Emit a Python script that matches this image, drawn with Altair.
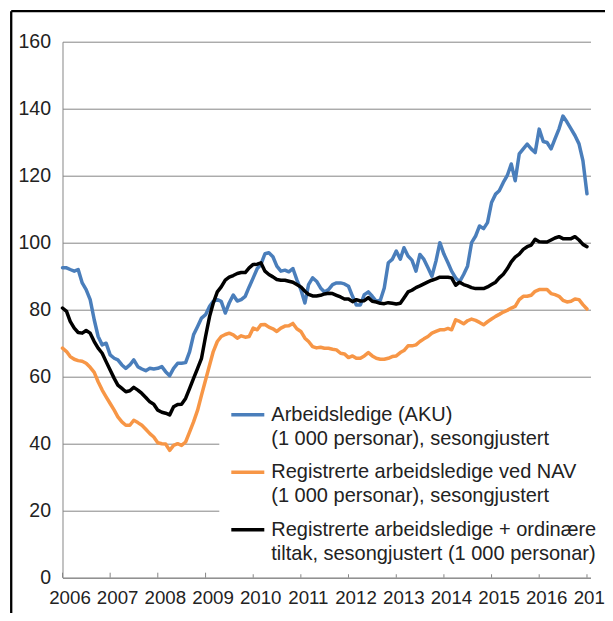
import altair as alt
import pandas as pd

# ---- data (monthly Jan 2006 .. Jan 2017) ----
series_names = [
    "Arbeidsledige (AKU)|(1 000 personar), sesongjustert",
    "Registrerte arbeidsledige ved NAV|(1 000 personar), sesongjustert",
    "Registrerte arbeidsledige + ordinære|tiltak, sesongjustert (1 000 personar)",
]
series_colors = ["#4A7EBB", "#F79646", "#000000"]

aku = [
    92.5, 92.5, 92.0, 91.5, 92.0, 88.0, 86.0, 83.0, 77.0, 72.0, 69.5, 70.0,
    66.5, 65.5, 65.0, 63.5, 62.5, 63.5, 65.0, 63.0, 62.3, 61.8, 62.5, 62.3,
    62.5, 63.0, 61.5, 60.3, 62.5, 64.0, 64.0, 64.2, 67.5, 72.5, 75.0, 77.5,
    78.5, 81.0, 82.5, 83.0, 82.5, 79.0, 82.0, 84.4, 82.6, 83.0, 84.0, 86.8,
    89.5, 92.3, 93.5, 96.7, 97.0, 95.8, 93.0, 91.5, 91.8, 91.3, 92.3, 89.0,
    86.0, 82.0, 87.5, 89.5, 88.5, 86.5, 85.3, 86.0, 87.5, 88.0, 88.0, 87.7,
    87.0, 84.0, 81.4, 81.4, 84.5, 85.3, 84.0, 82.5, 82.8, 86.5, 94.0, 95.0,
    97.5, 95.1, 98.5, 96.0, 94.8, 91.5, 96.5, 95.0, 92.5, 90.0, 94.5, 100.0,
    96.6, 94.0, 91.5, 89.5, 88.3, 90.5, 93.0, 100.0, 102.0, 105.0, 104.2, 106.0,
    112.0, 114.5, 115.5, 118.0, 120.0, 123.5, 118.5, 126.5, 128.0, 129.4, 128.0, 126.9,
    133.9, 130.2, 129.9, 128.0, 131.0, 134.0, 137.8, 136.0, 134.0, 132.0, 129.5, 124.5,
    114.6,
]

nav = [
    68.5, 67.5, 66.0, 65.2, 64.8, 64.6, 64.0, 62.8, 61.3, 58.5, 56.0, 54.0,
    52.0, 50.0, 48.0, 46.5, 45.5, 45.5, 47.0, 46.3, 45.5, 44.3, 43.0, 42.0,
    40.3, 40.0, 39.9, 38.0, 39.5, 40.0, 39.5, 40.5, 43.5, 46.5, 50.0, 54.5,
    59.0, 63.5, 67.5, 70.5, 72.0, 72.6, 73.0, 72.5, 71.5, 72.2, 71.8, 72.0,
    74.5, 74.0, 75.5, 75.6, 74.8, 74.3, 73.5, 74.5, 75.1, 75.2, 75.9, 74.3,
    73.5, 71.5, 70.5, 69.0, 68.6, 68.8, 68.5, 68.5, 68.2, 68.0, 67.0, 66.8,
    65.7, 66.2, 65.5, 65.5, 66.2, 67.2, 66.2, 65.5, 65.2, 65.2, 65.5, 66.0,
    66.2, 67.2, 67.8, 69.2, 69.2, 69.5, 70.5, 71.3, 72.0, 73.0, 73.5, 74.0,
    74.0, 74.4, 74.0, 77.0, 76.5, 75.8, 76.7, 77.2, 76.8, 76.2, 75.5, 76.4,
    77.2, 78.0, 78.6, 79.3, 79.8, 80.5, 81.0, 83.0, 84.0, 84.0, 84.3, 85.5,
    86.0, 86.0, 86.0, 84.8, 84.5, 84.0, 82.8, 82.3, 82.5, 83.2, 83.0, 81.5,
    80.2,
]

tiltak = [
    80.5, 79.5, 76.5, 74.5, 73.2, 73.0, 73.8, 73.0, 70.5, 68.5, 67.0, 64.5,
    62.0, 59.5, 57.5, 56.5, 55.5, 55.8, 56.8, 56.0, 55.0, 53.8, 52.5, 51.8,
    50.0, 49.4, 49.1, 48.6, 51.0, 51.7, 51.8, 53.5, 56.5, 59.5, 62.5, 65.5,
    72.0, 78.0, 82.0, 85.3, 86.8, 88.8, 89.7, 90.2, 90.8, 91.1, 91.1, 92.5,
    93.5, 93.6, 94.0, 91.5, 90.5, 89.8, 89.0, 88.8, 88.8, 88.5, 88.2, 87.5,
    86.8, 85.5, 84.6, 84.1, 84.1, 84.3, 84.7, 84.9, 84.8, 84.3, 83.8, 83.2,
    83.2, 82.4, 83.0, 82.6, 82.7, 83.6, 82.5, 82.3, 81.9, 81.8, 82.1, 81.9,
    81.7, 81.9, 83.5, 85.3, 85.8, 86.6, 87.1, 87.7, 88.3, 88.8, 89.2, 89.7,
    89.7, 89.7, 89.5, 87.3, 88.2, 87.5, 87.1, 86.6, 86.3, 86.3, 86.3, 86.8,
    87.5, 88.2, 89.5, 90.6, 92.2, 94.3, 95.7, 96.6, 98.0, 98.8, 99.3, 101.0,
    100.3, 100.2, 100.2, 100.8, 101.4, 101.8, 101.2, 101.2, 101.2, 101.8, 100.8, 99.5,
    98.8,
]

years = list(range(2006, 2018))
y_ticks = list(range(0, 161, 20))

# ---- tables built from the arrays ----
dates = pd.date_range("2006-01-01", periods=len(aku), freq="MS")
df = pd.concat(
    [
        pd.DataFrame({"date": dates, "value": vals, "series": name})
        for name, vals in zip(series_names, [aku, nav, tiltak])
    ],
    ignore_index=True,
)
df["date"] = df["date"].dt.strftime("%Y-%m-%dT00:00:00")
ticks_df = pd.DataFrame({"date": [f"{y}-01-01T00:00:00" for y in years]})

FONT = "Liberation Sans"
GRID = "#868686"
TXT = "#222222"
W, H = 528, 536

x_enc = alt.X(
    "date:T",
    scale=alt.Scale(
        domain=[alt.DateTime(year=2006, month=1, date=1),
                alt.DateTime(year=2017, month=1, date=28)],
        nice=False,
    ),
    axis=alt.Axis(
        values=[alt.DateTime(year=y, month=1, date=1) for y in years],
        format="%Y",
        title=None,
        ticks=False,
        grid=False,
        domainColor=GRID,
        domainWidth=1,
        labelOffset=7,
        labelPadding=11,
        labelFlush=False,
        labelOverlap=False,
        labelFontSize=18.7,
        labelFont=FONT,
        labelColor=TXT,
    ),
)

lines = alt.Chart(df).mark_line(strokeJoin="round", strokeCap="round").encode(
    x=x_enc,
    y=alt.Y(
        "value:Q",
        scale=alt.Scale(domain=[0, 160], nice=False),
        axis=alt.Axis(
            values=y_ticks,
            title=None,
            ticks=False,
            grid=True,
            gridColor=GRID,
            gridWidth=1,
            domainColor=GRID,
            domainWidth=1,
            labelPadding=12,
            labelFontSize=19.5,
            labelFont=FONT,
            labelColor=TXT,
        ),
    ),
    color=alt.Color(
        "series:N",
        scale=alt.Scale(domain=series_names, range=series_colors),
        legend=alt.Legend(
            title=None,
            orient="none",
            legendX=156.8,
            legendY=344.5,
            direction="vertical",
            symbolType="stroke",
            symbolSize=1089,
            symbolStrokeWidth=3.5,
            labelExpr="split(datum.label, '|')",
            labelFontSize=20,
            labelFont=FONT,
            labelColor=TXT,
            labelLimit=600,
            labelOffset=5,
            fillColor="white",
            padding=10,
            rowPadding=4.5,
        ),
    ),
    strokeWidth=alt.StrokeWidth(
        "series:N",
        scale=alt.Scale(domain=series_names, range=[3.5, 3.5, 4.2]),
        legend=None,
    ),
)

inner_ticks = alt.Chart(ticks_df).mark_rule(color=GRID, strokeWidth=1).encode(
    x="date:T", y=alt.value(H), y2=alt.value(H - 5)
)

one = pd.DataFrame({"k": [0]})
frame_left = alt.Chart(one).mark_rule(color="black", strokeWidth=2.3).encode(
    x=alt.value(-51.3), y=alt.value(-30.5), y2=alt.value(H + 60)
)
frame_top = alt.Chart(one).mark_rule(color="black", strokeWidth=2.3).encode(
    x=alt.value(-51.3), x2=alt.value(W + 60), y=alt.value(-30.5)
)

chart = alt.layer(inner_ticks, lines, frame_left, frame_top).properties(
    width=W,
    height=H,
    autosize=alt.AutoSizeParams(type="none"),
    padding={"left": 54.5, "top": 33.7, "right": 14.5, "bottom": 35},
).configure(
    background="white",
    style={"guide-label": {"lineHeight": 24}},
).configure_view(stroke=None)

chart.save("out.html", embed_options={"renderer": "svg", "actions": False})
